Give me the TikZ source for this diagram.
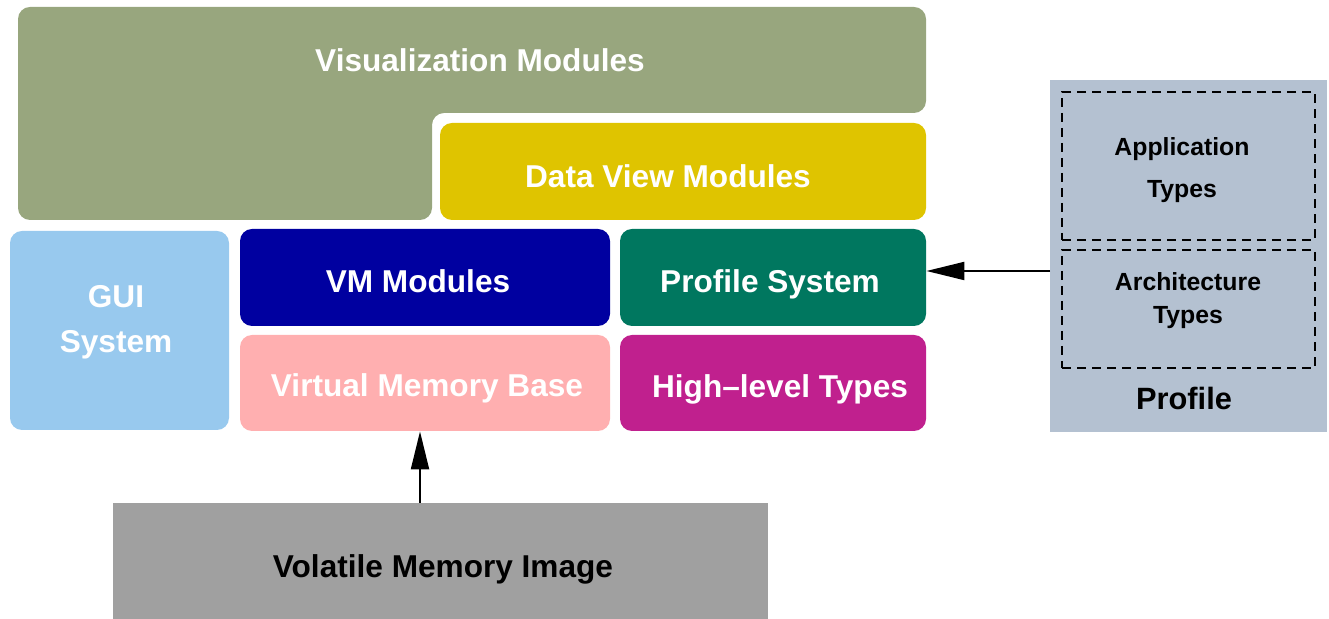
\documentclass[tikz,border=0pt]{standalone}
\usepackage{fontspec}
\setmainfont{Liberation Sans}
\usetikzlibrary{fit,arrows.meta}
\definecolor{cvis}{HTML}{98A67E}
\definecolor{cdata}{HTML}{DFC400}
\definecolor{cgui}{HTML}{98C9EE}
\definecolor{cvm}{HTML}{0000A0}
\definecolor{cvmb}{HTML}{FFAFB0}
\definecolor{cps}{HTML}{00775F}
\definecolor{chl}{HTML}{C0208E}
\definecolor{cvol}{HTML}{A0A0A0}
\definecolor{cprof}{HTML}{B4C1D1}
\begin{document}
\begin{tikzpicture}[x=0.5pt,y=-0.5pt,
  blk/.style={fill=#1, draw=none, rounded corners=6pt, inner sep=0pt},
  wtext/.style={text=white, font=\fontsize{15.8}{22.5}\selectfont\bfseries, align=center, inner sep=0pt},
  btext/.style={text=black, font=\fontsize{12.4}{21}\selectfont\bfseries, align=center, inner sep=0pt},
  dbox/.style={draw=black, dash pattern=on 4.5pt off 3pt, line width=0.7pt, inner sep=0pt},
  conn/.style={line width=1pt, -{Triangle[length=19pt,width=9pt]}}]
\useasboundingbox (0,0) rectangle (1329,619);
% Visualization L-shape
\fill[cvis, rounded corners=6pt] (18,113) -- (18,7) -- (926,7) -- (926,113) -- (432,113) -- (432,220) -- (18,220) -- cycle;
\node[wtext] (vis) at (480,60) {Visualization Modules};
\node[blk=cdata, fit={(440,123)(926,220)}] (dv) {};
\node[wtext] (dvt) at (668,176) {Data View Modules};
\node[blk=cgui, fit={(10,231)(229,430)}] (gui) {};
\node[wtext] (guit) at (116,322) {GUI\\System};
\node[blk=cvm, fit={(240,229)(610,326)}] (vm) {};
\node[wtext] (vmt) at (418,281) {VM Modules};
\node[blk=cvmb, fit={(240,335)(610,431)}] (vmb) {};
\node[wtext] (vmbt) at (427,388) {Virtual Memory Base};
\node[blk=cps, fit={(620,229)(926,326)}] (ps) {};
\node[wtext] (pst) at (770,284) {Profile System};
\node[blk=chl, fit={(620,335)(926,431)}] (hl) {};
\node[wtext] (hlt) at (780,389) {High--level Types};
\node[fill=cvol, inner sep=0pt, fit={(113,503)(768,619)}] (vol) {};
\node[wtext, text=black] (volt) at (443,569) {Volatile Memory Image};
% Profile
\node[fill=cprof, inner sep=0pt, fit={(1050,80)(1327,432)}] (prof) {};
\node[dbox, fit={(1062,92)(1315,240)}] (app) {};
\node[btext] (appt) at (1182,170) {Application\\Types};
\node[dbox, fit={(1062,250)(1315,368)}] (arch) {};
\node[btext, font=\fontsize{12.4}{16.5}\selectfont\bfseries] (archt) at (1188,301) {Architecture\\Types};
\node[text=black, inner sep=0pt, font=\fontsize{15.4}{19}\selectfont\bfseries] (proft) at (1184,398) {Profile};
% connectors
\coordinate (pa) at (1050,271);
\draw[conn] (pa) -- (pa -| ps.east);
\coordinate (va) at (420,503);
\draw[conn] (va) -- (va |- vmb.south);
\end{tikzpicture}
\end{document}
